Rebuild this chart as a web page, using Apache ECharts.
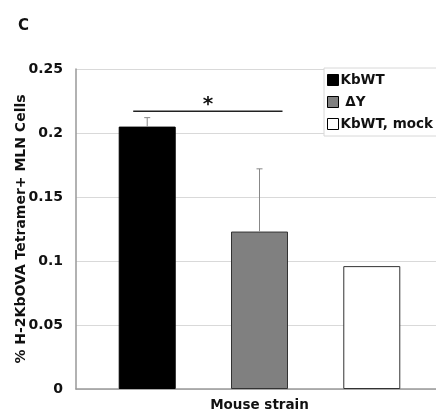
<!DOCTYPE html>
<html>
<head>
<meta charset="utf-8">
<script src="https://cdn.jsdelivr.net/npm/echarts@6/dist/echarts.min.js"></script>
<style>
  html, body { margin: 0; padding: 0; background: #fff; }
  #chart { width: 436px; height: 412px; }
</style>
</head>
<body>
<div id="chart"></div>
<script>
// data
var categories = ['Mouse strain'];
var seriesNames = ['KbWT', ' ΔY', 'KbWT, mock'];
var meanValues = [0.205, 0.123, 0.096];
var errorTops = [0.212, 0.172, null];
var sigLevel = 0.217;
var yTicks = [0, 0.05, 0.1, 0.15, 0.2, 0.25];

var barColors = ['#000000', '#808080', '#ffffff'];
var barW = 57;
var barGap = 0.97;
var step = barW * (1 + barGap);

var chart = echarts.init(document.getElementById('chart'));

var font = 'Verdana, "DejaVu Sans", sans-serif';

var series = seriesNames.map(function (name, i) {
    return {
        name: name,
        type: 'bar',
        barWidth: barW,
        barGap: (barGap * 100) + '%',
        data: [meanValues[i]],
        itemStyle: { color: barColors[i], borderColor: i === 0 ? '#000' : '#333', borderWidth: 1 },
        z: 2
    };
});

// error bars and significance line
series.push({
    type: 'custom',
    data: [[0, 0]],
    z: 3,
    silent: true,
    renderItem: function (params, api) {
        var children = [];
        var base = api.coord([0, 0]);
        errorTops.forEach(function (e, i) {
            if (e == null) return;
            var x = base[0] + (i - 1) * step;
            var yTop = api.coord([0, e])[1];
            var yMean = api.coord([0, meanValues[i]])[1];
            children.push({ type: 'line', shape: { x1: x, y1: yMean, x2: x, y2: yTop }, style: { stroke: '#888', lineWidth: 1 } });
            children.push({ type: 'line', shape: { x1: x - 3, y1: yTop, x2: x + 3, y2: yTop }, style: { stroke: '#888', lineWidth: 1 } });
        });
        var ys = api.coord([0, sigLevel])[1];
        var xa = base[0] - step - 14;
        var xb = base[0] + 23;
        children.push({ type: 'line', shape: { x1: xa, y1: ys, x2: xb, y2: ys }, style: { stroke: '#222', lineWidth: 1.5 } });
        children.push({ type: 'text', style: { text: '*', x: (xa + xb) / 2, y: ys + 4, align: 'center', verticalAlign: 'bottom', font: 'bold 20px ' + font, fill: '#111' } });
        return { type: 'group', children: children };
    }
});

var option = {
    animation: false,
    backgroundColor: '#fff',
    title: {
        text: 'C', left: 13, top: 14,
        textStyle: { fontFamily: font, fontSize: 15, fontWeight: 'bold', color: '#111' }
    },
    legend: {
        data: seriesNames,
        orient: 'vertical',
        left: 324, top: 68,
        itemWidth: 11, itemHeight: 11, itemGap: 8,
        icon: 'rect',
        padding: [5, 30, 5, 3],
        backgroundColor: '#fff',
        borderColor: '#d8d8d8', borderWidth: 1,
        itemStyle: { borderColor: '#000', borderWidth: 1 },
        textStyle: { fontFamily: font, fontSize: 13.5, fontWeight: 'bold', color: '#111', padding: [0, 0, 0, -3] }
    },
    grid: { left: 76, top: 69, width: 367, bottom: 23, outerBoundsMode: 'none' },
    xAxis: {
        type: 'category',
        data: categories,
        name: 'Mouse strain',
        nameLocation: 'middle',
        nameGap: 9,
        nameTextStyle: { fontFamily: font, fontSize: 13.5, fontWeight: 'bold', color: '#111' },
        axisLabel: { show: false },
        axisTick: { show: false },
        axisLine: { lineStyle: { color: '#999', width: 1.5 } }
    },
    yAxis: {
        type: 'value',
        min: yTicks[0], max: yTicks[yTicks.length - 1], interval: yTicks[1] - yTicks[0],
        name: '% H-2KbOVA Tetramer+ MLN Cells',
        nameLocation: 'middle',
        nameGap: 48,
        nameMoveOverlap: false,
        nameTextStyle: { fontFamily: font, fontSize: 14, fontWeight: 'bold', color: '#111' },
        axisLine: { show: true, lineStyle: { color: '#999', width: 1.5 } },
        axisTick: { show: false },
        axisLabel: { fontFamily: font, fontSize: 14, fontWeight: 'bold', color: '#111', margin: 13 },
        splitLine: { lineStyle: { color: '#d9d9d9' } }
    },
    series: series
};

chart.setOption(option);
</script>
</body>
</html>
